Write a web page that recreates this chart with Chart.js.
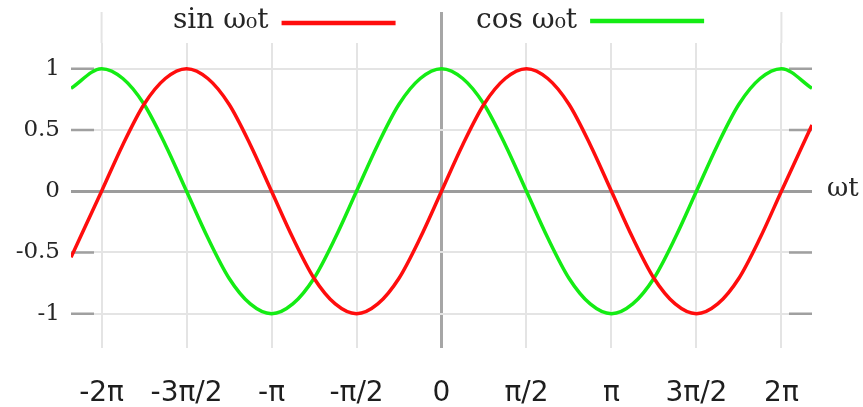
<!DOCTYPE html>
<html>
<head>
<meta charset="utf-8">
<script src="https://cdn.jsdelivr.net/npm/chart.js@4/dist/chart.umd.min.js"></script>
<style>
  html, body { margin: 0; padding: 0; background: #fff; }
  #wrap { width: 863px; height: 407px; position: relative; }
</style>
</head>
<body>
<div id="wrap"><canvas id="chart"></canvas></div>
<script>
  // x positions in units of pi
  var xPi = [-2.18, -2, -1.875, -1.75, -1.625, -1.5, -1.375, -1.25, -1.125, -1,
    -0.875, -0.75, -0.625, -0.5, -0.375, -0.25, -0.125, 0,
    0.125, 0.25, 0.375, 0.5, 0.625, 0.75, 0.875, 1,
    1.125, 1.25, 1.375, 1.5, 1.625, 1.75, 1.875, 2, 2.18];
  var sinValues = [-0.54, 0, 0.38, 0.71, 0.92, 1, 0.92, 0.71, 0.38, 0,
    -0.38, -0.71, -0.92, -1, -0.92, -0.71, -0.38, 0,
    0.38, 0.71, 0.92, 1, 0.92, 0.71, 0.38, 0,
    -0.38, -0.71, -0.92, -1, -0.92, -0.71, -0.38, 0, 0.54];
  var cosValues = [0.84, 1, 0.92, 0.71, 0.38, 0, -0.38, -0.71, -0.92, -1,
    -0.92, -0.71, -0.38, 0, 0.38, 0.71, 0.92, 1,
    0.92, 0.71, 0.38, 0, -0.38, -0.71, -0.92, -1,
    -0.92, -0.71, -0.38, 0, 0.38, 0.71, 0.92, 1, 0.84];
  var xTickValues = [-2, -1.5, -1, -0.5, 0, 0.5, 1, 1.5, 2];
  var xTickLabels = ['-2π', '-3π/2', '-π', '-π/2', '0', 'π/2', 'π', '3π/2', '2π'];
  var yTickValues = [-1, -0.5, 0, 0.5, 1];
  var yTickLabels = ['-1', '-0.5', '0', '0.5', '1'];
  var seriesLabels = ['sin ω₀t', 'cos ω₀t'];
  var axisLabel = 'ωt';

  var RED = '#ff0d0d';
  var GREEN = '#14ec14';
  var LIGHT = '#e4e4e4';

  function toPoints(values) {
    return values.map(function (v, i) { return { x: xPi[i], y: v }; });
  }

  var decorations = {
    id: 'decorations',
    beforeDatasetsDraw: function (chart) {
      var ctx = chart.ctx;
      var area = chart.chartArea;
      var xs = chart.scales.x;
      var ys = chart.scales.y;
      ctx.save();
      // vertical lines reaching up into the legend band
      [-2, 0, 2].forEach(function (v) {
        var px = xs.getPixelForValue(v);
        ctx.beginPath();
        ctx.strokeStyle = v === 0 ? '#a6a6a6' : LIGHT;
        ctx.lineWidth = v === 0 ? 3 : 2;
        ctx.moveTo(px, 12);
        ctx.lineTo(px, area.top);
        ctx.stroke();
      });
      // short darker ticks on both ends of horizontal grid lines
      ctx.strokeStyle = '#a0a0a0';
      ctx.lineWidth = 2.5;
      yTickValues.forEach(function (v) {
        if (v === 0) { return; }
        var py = ys.getPixelForValue(v);
        ctx.beginPath();
        ctx.moveTo(area.left, py);
        ctx.lineTo(area.left + 23, py);
        ctx.moveTo(area.right - 23, py);
        ctx.lineTo(area.right, py);
        ctx.stroke();
      });
      ctx.restore();
    },
    afterDraw: function (chart) {
      var ctx = chart.ctx;
      var ys = chart.scales.y;
      ctx.save();
      ctx.fillStyle = '#262626';
      ctx.textBaseline = 'middle';
      ctx.font = '28px "DejaVu Serif"';
      var starts = [173, 476];
      var lineY = [23, 21];
      chart.data.datasets.forEach(function (ds, i) {
        ctx.fillText(seriesLabels[i], starts[i], 21);
        var w = ctx.measureText(seriesLabels[i]).width;
        ctx.beginPath();
        ctx.strokeStyle = ds.borderColor;
        ctx.lineWidth = 4.5;
        ctx.moveTo(starts[i] + w + 13, lineY[i]);
        ctx.lineTo(starts[i] + w + 127, lineY[i]);
        ctx.stroke();
      });
      ctx.font = '26px "DejaVu Serif"';
      ctx.fillText(axisLabel, 827, ys.getPixelForValue(0) - 2);
      ctx.restore();
    }
  };

  new Chart(document.getElementById('chart'), {
    type: 'line',
    data: {
      datasets: [
        { label: seriesLabels[0], data: toPoints(sinValues), borderColor: RED },
        { label: seriesLabels[1], data: toPoints(cosValues), borderColor: GREEN }
      ]
    },
    options: {
      responsive: true,
      maintainAspectRatio: false,
      animation: false,
      parsing: false,
      datasets: {
        line: {
          borderWidth: 3.5,
          pointRadius: 0,
          cubicInterpolationMode: 'monotone',
          fill: false
        }
      },
      layout: { padding: { top: 43, right: 51, left: 0, bottom: 0 } },
      plugins: {
        legend: { display: false },
        tooltip: { enabled: false }
      },
      scales: {
        x: {
          type: 'linear',
          min: -2.18,
          max: 2.18,
          border: { display: false },
          afterBuildTicks: function (scale) {
            scale.ticks = xTickValues.map(function (v) { return { value: v }; });
          },
          afterFit: function (scale) { scale.height = 59; },
          grid: {
            drawTicks: false,
            color: function (c) { return c.tick && c.tick.value === 0 ? '#a6a6a6' : LIGHT; },
            lineWidth: function (c) { return c.tick && c.tick.value === 0 ? 3 : 2; }
          },
          ticks: {
            padding: 29,
            maxRotation: 0,
            autoSkip: false,
            color: '#1e1e1e',
            font: { family: 'DejaVu Sans', size: 28 },
            callback: function (v, i) { return xTickLabels[i]; }
          }
        },
        y: {
          type: 'linear',
          min: -1.28,
          max: 1.21,
          border: { display: false },
          afterBuildTicks: function (scale) {
            scale.ticks = yTickValues.map(function (v) { return { value: v }; });
          },
          afterFit: function (scale) { scale.width = 71; },
          grid: {
            drawTicks: false,
            color: function (c) { return c.tick && c.tick.value === 0 ? '#9c9c9c' : LIGHT; },
            lineWidth: function (c) { return c.tick && c.tick.value === 0 ? 3 : 2; }
          },
          ticks: {
            padding: 11,
            color: '#262626',
            font: { family: 'DejaVu Serif', size: 23 },
            callback: function (v, i) { return yTickLabels[i]; }
          }
        }
      }
    },
    plugins: [decorations]
  });
</script>
</body>
</html>
